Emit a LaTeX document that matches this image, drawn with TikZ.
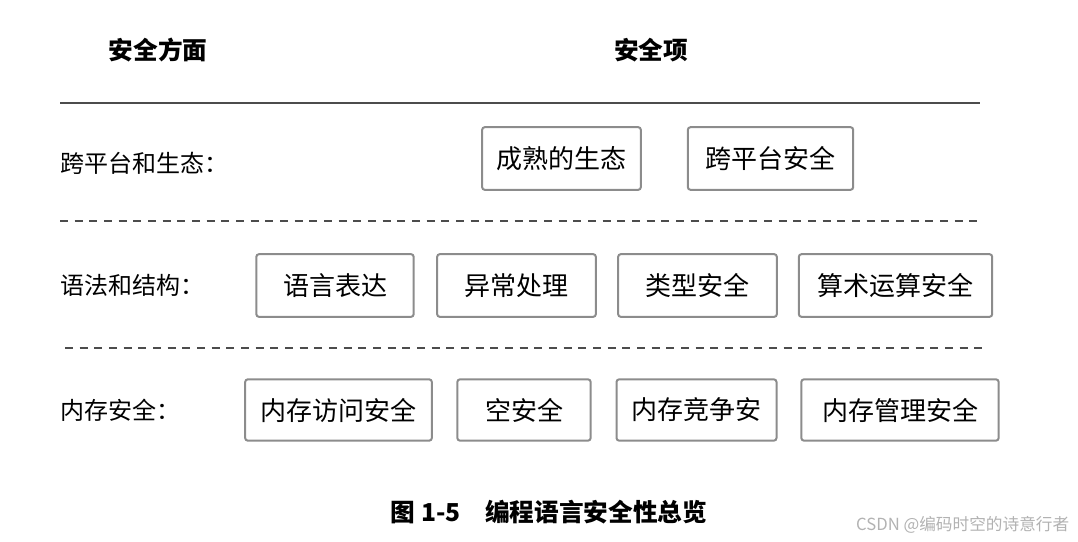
\documentclass[tikz,border=0pt]{standalone}
\usepackage{fontspec}
\setmainfont{Noto Sans CJK SC}
\begin{document}
\begin{tikzpicture}[x=0.75pt,y=-0.75pt,
  item/.style={draw=gray!90,line width=1.5pt,rounded corners=2pt,inner sep=0pt,font=\fontsize{19.5}{22}\selectfont},
  lab/.style={anchor=west,font=\fontsize{18}{20}\selectfont},
  hdr/.style={font=\fontsize{18.5}{20}\selectfont\bfseries},
  sep/.style={draw=black!70,line width=1pt,dash pattern=on 6pt off 5pt}]
\useasboundingbox (0,0) rectangle (1078,542);
\node[hdr] (h1) at (158,50) {安全方面};
\node[hdr] (h2) at (651,50) {安全项};
\draw[black!70,line width=1pt] (60,103) -- (980,103);
\node[lab] (l1) at (56,163) {跨平台和生态：};
\node[item,minimum width=119pt,minimum height=47pt] (a1) at (561.5,158.5) {成熟的生态};
\node[item,minimum width=124pt,minimum height=47pt] (a2) at (770.5,158.5) {跨平台安全};
\draw[sep] (60,221) -- (980,221);
\node[lab] (l2) at (56,285) {语法和结构：};
\node[item,minimum width=118pt,minimum height=47pt] (b1) at (335,285.5) {语言表达};
\node[item,minimum width=119pt,minimum height=47pt] (b2) at (516.5,285.5) {异常处理};
\node[item,minimum width=119pt,minimum height=47pt] (b3) at (697.5,285.5) {类型安全};
\node[item,minimum width=145pt,minimum height=47pt] (b4) at (895.5,285.5) {算术运算安全};
\draw[sep] (65,348) -- (985,348);
\node[lab] (l3) at (56,410) {内存安全：};
\node[item,minimum width=140pt,minimum height=46pt] (c1) at (338.5,410) {内存访问安全};
\node[item,minimum width=100pt,minimum height=46pt] (c2) at (524,410) {空安全};
\node[item,minimum width=120pt,minimum height=46pt] (c3) at (696.5,410) {内存竞争安};
\node[item,minimum width=148pt,minimum height=46pt] (c4) at (900,410) {内存管理安全};
\node[hdr] (cap) at (549,512) {图 1-5\quad 编程语言安全性总览};
\node[anchor=east,text=gray!60,font=\fontsize{12.5}{14}\selectfont] (wm) at (1074,525) {CSDN @编码时空的诗意行者};
\end{tikzpicture}
\end{document}
